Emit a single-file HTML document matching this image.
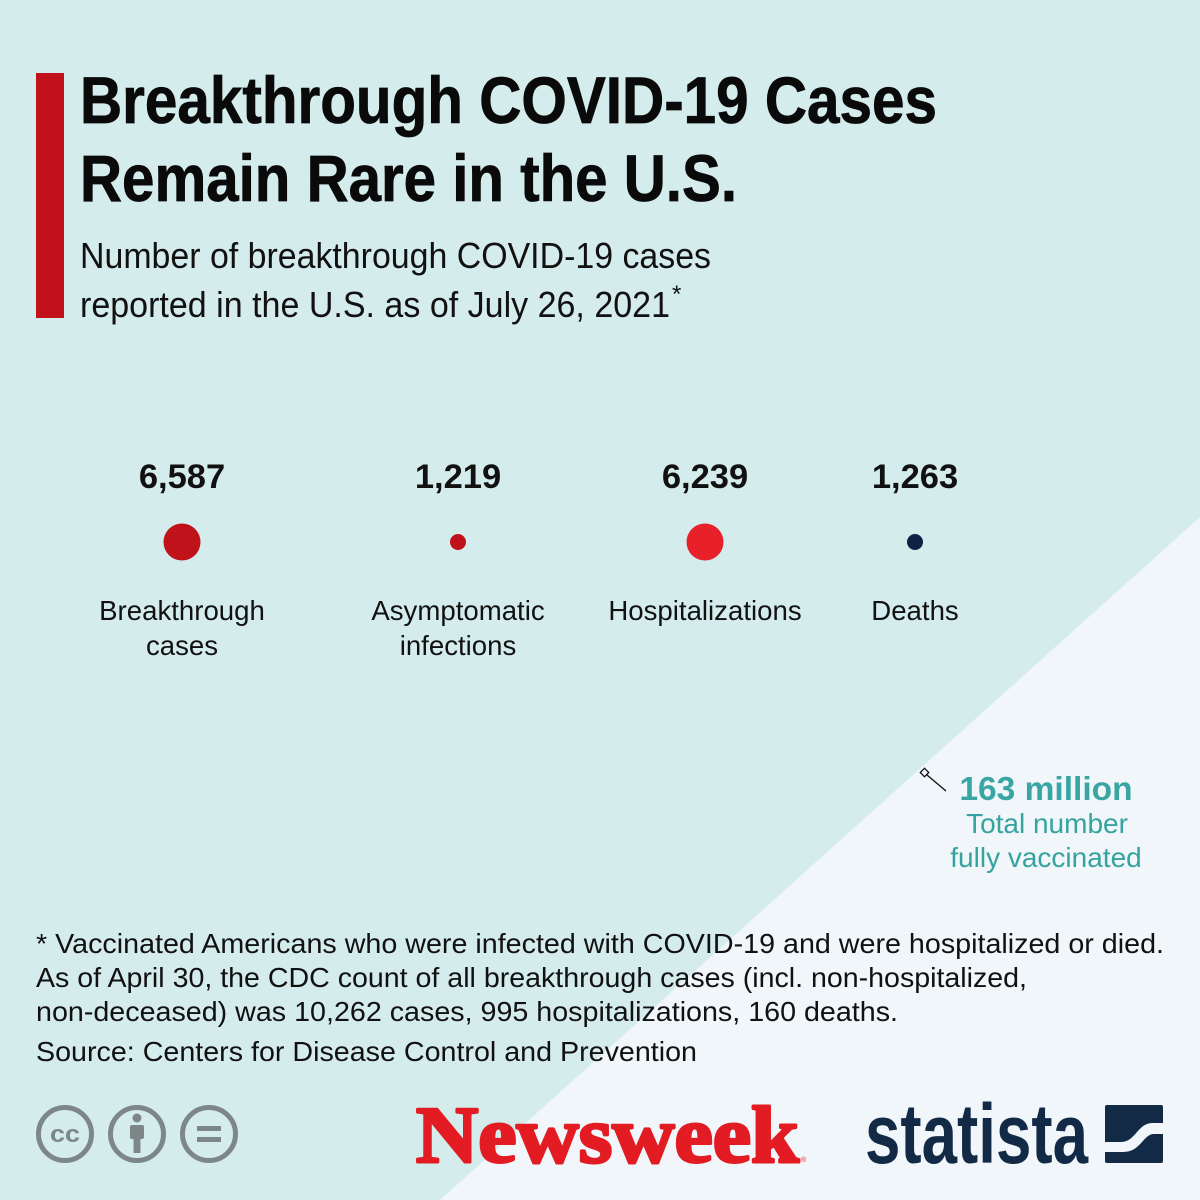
<!DOCTYPE html>
<html>
<head>
<meta charset="utf-8">
<style>
  html,body{margin:0;padding:0;background:#d5ecec;}
  svg{display:block;}
  .cond{font-family:"Liberation Sans Narrow","Liberation Sans",sans-serif;}
  .sans{font-family:"Liberation Sans",Arial,sans-serif;}
  .serif{font-family:"Liberation Serif","Times New Roman",serif;}
</style>
</head>
<body>
<svg width="1200" height="1200" viewBox="0 0 1200 1200" xmlns="http://www.w3.org/2000/svg">
  <!-- background -->
  <rect x="0" y="0" width="1200" height="1200" fill="#d5ecec"/>
  <polygon points="1200,517 1200,1200 440,1200" fill="#f0f6f9"/>

  <!-- red bar -->
  <rect x="36" y="73" width="28" height="245" fill="#c1121c"/>

  <!-- title -->
  <text class="cond" x="80" y="123" font-size="66" font-weight="bold" fill="#0a0a0a" stroke="#0a0a0a" stroke-width="0.8" textLength="857" lengthAdjust="spacingAndGlyphs">Breakthrough COVID-19 Cases</text>
  <text class="cond" x="80" y="201" font-size="66" font-weight="bold" fill="#0a0a0a" stroke="#0a0a0a" stroke-width="0.8" textLength="657" lengthAdjust="spacingAndGlyphs">Remain Rare in the U.S.</text>

  <!-- subtitle -->
  <text class="cond" x="80" y="268" font-size="36" fill="#111" textLength="631" lengthAdjust="spacingAndGlyphs">Number of breakthrough COVID-19 cases</text>
  <text class="cond" x="80" y="317" font-size="36" fill="#111" textLength="590" lengthAdjust="spacingAndGlyphs">reported in the U.S. as of July 26, 2021</text>
  <text class="cond" x="672" y="302" font-size="24" fill="#111">*</text>

  <!-- numbers -->
  <g class="sans" font-size="34.5" font-weight="bold" fill="#111" text-anchor="middle">
    <text x="182" y="488">6,587</text>
    <text x="458" y="488">1,219</text>
    <text x="705" y="488">6,239</text>
    <text x="915" y="488">1,263</text>
  </g>

  <!-- dots -->
  <circle cx="182" cy="542" r="18.5" fill="#c0121b"/>
  <circle cx="458" cy="542" r="8" fill="#c0121b"/>
  <circle cx="705" cy="542" r="18.5" fill="#e8202a"/>
  <circle cx="915" cy="542" r="8" fill="#0d2244"/>

  <!-- labels -->
  <g class="sans" font-size="27.6" fill="#111" text-anchor="middle">
    <text x="182" y="620">Breakthrough</text>
    <text x="182" y="655">cases</text>
    <text x="458" y="620">Asymptomatic</text>
    <text x="458" y="655">infections</text>
    <text x="705" y="620">Hospitalizations</text>
    <text x="915" y="620">Deaths</text>
  </g>

  <!-- syringe -->
  <line x1="927" y1="775" x2="946" y2="791" stroke="#111" stroke-width="1.4"/>
  <rect x="921.5" y="769.5" width="6" height="6" fill="none" stroke="#111" stroke-width="1.3" transform="rotate(45 924.5 772.5)"/>

  <!-- 163 million -->
  <text class="sans" x="1046" y="800" font-size="33.5" font-weight="bold" fill="#3aa6a3" text-anchor="middle">163 million</text>
  <text class="sans" x="1047" y="833" font-size="28" fill="#35a3a0" text-anchor="middle">Total number</text>
  <text class="sans" x="1046" y="867" font-size="28" fill="#35a3a0" text-anchor="middle">fully vaccinated</text>

  <!-- footnote -->
  <g class="sans" font-size="27.5" fill="#111">
    <text x="36" y="953" textLength="1128" lengthAdjust="spacingAndGlyphs">* Vaccinated Americans who were infected with COVID-19 and were hospitalized or died.</text>
    <text x="36" y="987" textLength="991" lengthAdjust="spacingAndGlyphs">As of April 30, the CDC count of all breakthrough cases (incl. non-hospitalized,</text>
    <text x="36" y="1021" textLength="862" lengthAdjust="spacingAndGlyphs">non-deceased) was 10,262 cases, 995 hospitalizations, 160 deaths.</text>
    <text x="36" y="1061" textLength="661" lengthAdjust="spacingAndGlyphs">Source: Centers for Disease Control and Prevention</text>
  </g>

  <!-- CC icons -->
  <g fill="none" stroke="#7d8787" stroke-width="5">
    <circle cx="65" cy="1134" r="26.5"/>
    <circle cx="137" cy="1134" r="26.5"/>
    <circle cx="209" cy="1134" r="26.5"/>
  </g>
  <text class="sans" x="65" y="1142" font-size="24" font-weight="bold" fill="#7d8787" text-anchor="middle" textLength="30" lengthAdjust="spacingAndGlyphs">cc</text>
  <circle cx="137" cy="1118" r="4.5" fill="#7d8787"/>
  <rect x="130" y="1125" width="14" height="14" rx="2" fill="#7d8787"/>
  <rect x="133.5" y="1137" width="7" height="16" fill="#7d8787"/>
  <rect x="197" y="1126" width="24" height="5" fill="#7d8787"/>
  <rect x="197" y="1137" width="24" height="5" fill="#7d8787"/>

  <!-- Newsweek -->
  <text class="serif" x="416" y="1162" font-size="80" font-weight="bold" fill="#e31b23" stroke="#e31b23" stroke-width="3" stroke-linejoin="round" textLength="383" lengthAdjust="spacingAndGlyphs">Newsweek</text>
  <text class="sans" x="801" y="1162" font-size="7" fill="#e31b23">®</text>

  <!-- statista -->
  <text class="cond" x="865" y="1163" font-size="84" font-weight="bold" fill="#122a45" textLength="223" lengthAdjust="spacingAndGlyphs">statista</text>
  <rect x="1105" y="1105" width="58" height="58" rx="2" fill="#122a45"/>
  <path d="M1105,1142 L1121,1142 C1136,1142 1137,1123 1153,1123 L1163,1123 L1163,1134 L1154,1134 C1143,1134 1141,1152 1123,1152 L1105,1152 Z" fill="#f0f6f9"/>
</svg>
</body>
</html>
